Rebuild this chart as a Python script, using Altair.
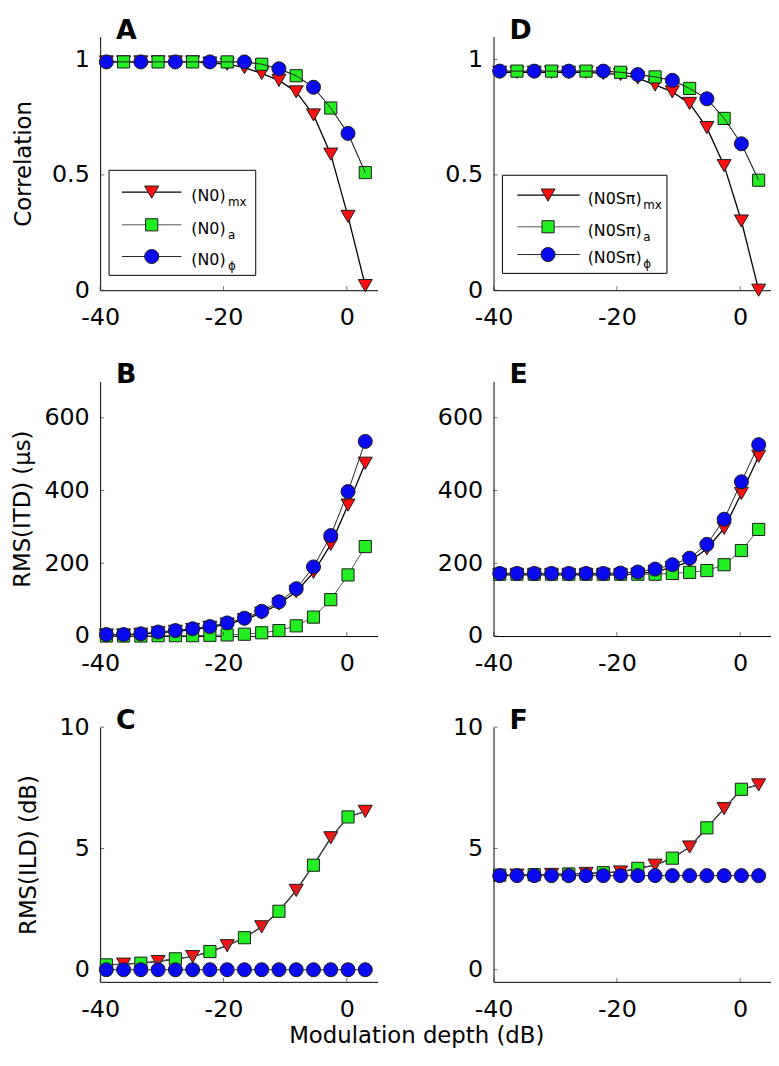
import altair as alt
import pandas as pd

# ---------------- data ----------------
X_DB = [-39.0, -36.2, -33.4, -30.6, -27.8, -25.0, -22.2, -19.4,
        -16.6, -13.8, -11.0, -8.2, -5.4, -2.6, 0.2, 3.0]

# A: N0, correlation
A_MX = [0.99, 0.99, 0.99, 0.99, 0.99, 0.99, 0.985, 0.98, 0.965, 0.94, 0.91, 0.86, 0.76, 0.59, 0.32, 0.02]
A_AM = [0.99, 0.99, 0.99, 0.99, 0.99, 0.99, 0.99, 0.99, 0.99, 0.98, 0.96, 0.93, 0.88, 0.79, 0.68, 0.51]
A_PH = [0.99, 0.99, 0.99, 0.99, 0.99, 0.99, 0.99, 0.99, 0.99, 0.98, 0.96, 0.93, 0.88, 0.79, 0.68, 0.51]
# B: N0, RMS(ITD)
B_MX = [3, 3, 5, 9, 13, 18, 24, 33, 45, 63, 88, 122, 175, 252, 360, 475]
B_AM = [0, 0, 0, 1, 1, 1, 2, 3, 5, 9, 15, 28, 52, 100, 168, 246]
B_PH = [4, 4, 6, 11, 15, 20, 26, 36, 49, 68, 94, 130, 190, 276, 397, 535]
# C: N0, RMS(ILD)
C_MX = [0.2, 0.23, 0.27, 0.34, 0.45, 0.54, 0.75, 0.99, 1.32, 1.77, 2.41, 3.27, 4.31, 5.44, 6.3, 6.53]
C_AM = [0.2, 0.23, 0.27, 0.34, 0.45, 0.54, 0.75, 0.99, 1.32, 1.77, 2.41, 3.27, 4.31, 5.44, 6.3, 6.53]
C_PH = [0.0, 0.0, 0.0, 0.0, 0.0, 0.0, 0.0, 0.0, 0.0, 0.0, 0.0, 0.0, 0.0, 0.0, 0.0, 0.0]
# D: N0Spi, correlation
D_MX = [0.945, 0.945, 0.945, 0.945, 0.945, 0.945, 0.94, 0.935, 0.92, 0.89, 0.86, 0.81, 0.705, 0.54, 0.30, 0.0]
D_AM = [0.95, 0.95, 0.95, 0.95, 0.95, 0.95, 0.95, 0.945, 0.935, 0.925, 0.91, 0.875, 0.83, 0.745, 0.635, 0.477]
D_PH = [0.95, 0.95, 0.95, 0.95, 0.95, 0.95, 0.95, 0.945, 0.935, 0.925, 0.91, 0.875, 0.83, 0.745, 0.635, 0.477]
# E: N0Spi, RMS(ITD)
E_MX = [168, 168, 168, 168, 168, 168, 168, 168, 170, 178, 188, 205, 240, 296, 392, 494]
E_AM = [170, 170, 170, 170, 170, 170, 170, 170, 170, 170, 172, 175, 180, 196, 235, 293]
E_PH = [172, 172, 172, 172, 172, 172, 172, 173, 176, 184, 196, 214, 252, 321, 424, 526]
# F: N0Spi, RMS(ILD)
F_MX = [3.9, 3.9, 3.92, 3.93, 3.95, 3.97, 4.0, 4.03, 4.18, 4.31, 4.6, 5.06, 5.85, 6.64, 7.44, 7.62]
F_AM = [3.9, 3.9, 3.92, 3.93, 3.95, 3.97, 4.0, 4.03, 4.18, 4.31, 4.6, 5.06, 5.85, 6.64, 7.44, 7.62]
F_PH = [3.88, 3.88, 3.88, 3.88, 3.88, 3.88, 3.88, 3.88, 3.88, 3.88, 3.88, 3.88, 3.88, 3.88, 3.88, 3.88]

X_TICKS = [-40, -20, 0]
CORR_TICKS = [0, 0.5, 1]
ITD_TICKS = [0, 200, 400, 600]
ILD_TICKS = [0, 5, 10]

SUBS = ["mx", "a", "\u03d5"]

# ---------------- styles ----------------
FONT = "DejaVu Sans"
W, H1, H2 = 280, 256, 257
STYLE = {
    "mx": dict(shape="triangle-down", fill="#ff1010", size=200, lc="#000000", lw=1.3),
    "am": dict(shape="square", fill="#22ee22", size=150, lc="#555555", lw=1.0),
    "ph": dict(shape="circle", fill="#0a0af0", size=200, lc="#222222", lw=1.0),
}
ORDER = ["mx", "am", "ph"]
XS = alt.Scale(domain=[-40, 5], nice=False, zero=False)
DUMMY = pd.DataFrame({"d": [0]})


def series_df(vals, which):
    rows = []
    for k, (x, v) in enumerate(zip(X_DB, vals)):
        if which == "all" or (which == "even" and k % 2 == 0) or (which == "odd" and k % 2 == 1):
            rows.append({"x": x, "y": v})
    return pd.DataFrame(rows)


def legend_layers(box, rows, lx, mx_, tx, sx, main):
    x0, x1, y0, y1 = box
    layers = [alt.Chart(DUMMY).mark_rect(fill="white", stroke="#000000", strokeWidth=1).encode(
        x=alt.value(x0), x2=alt.value(x1), y=alt.value(y0), y2=alt.value(y1))]
    for s, ry, sub in zip(ORDER, rows, SUBS):
        st = STYLE[s]
        layers.append(alt.Chart(DUMMY).mark_rule(color=st["lc"], strokeWidth=st["lw"]).encode(
            x=alt.value(lx[0]), x2=alt.value(lx[1]), y=alt.value(ry)))
        layers.append(alt.Chart(DUMMY).mark_point(shape=st["shape"], filled=True, fill=st["fill"],
                                                  stroke="#1a1a1a", strokeWidth=1, size=st["size"],
                                                  opacity=1).encode(
            x=alt.value(mx_), y=alt.value(ry)))
        layers.append(alt.Chart(DUMMY).mark_text(text=main, font=FONT, fontSize=16, align="left",
                                                 baseline="middle", color="black").encode(
            x=alt.value(tx), y=alt.value(ry + 4)))
        layers.append(alt.Chart(DUMMY).mark_text(text=sub, font=FONT, fontSize=12, align="left",
                                                 baseline="middle", color="black").encode(
            x=alt.value(sx), y=alt.value(ry + 10)))
    return layers


def panel(letter, vals, pattern, ydom, yticks, ytitle, ypad, h, legend=None, xtitle=None):
    ys = alt.Scale(domain=ydom, nice=False, zero=False)
    xaxis = alt.Axis(values=X_TICKS, labelExpr="'' + datum.value", title=xtitle,
                     titleX=319, titleY=61, titleBaseline="alphabetic", titleAlign="center")
    yaxis = alt.Axis(values=yticks, labelExpr="'' + datum.value", title=ytitle, titlePadding=ypad)
    ex = alt.X("x:Q", scale=XS, axis=xaxis)
    ey = alt.Y("y:Q", scale=ys, axis=yaxis)
    layers = []
    for s in ORDER:
        st = STYLE[s]
        dline = series_df(vals[s], "all")
        dpts = series_df(vals[s], pattern[s])
        layers.append(alt.Chart(dline).mark_line(color=st["lc"], strokeWidth=st["lw"]).encode(x=ex, y=ey))
        layers.append(alt.Chart(dpts).mark_point(shape=st["shape"], filled=True, fill=st["fill"],
                                                 stroke="#1a1a1a", strokeWidth=1, size=st["size"],
                                                 opacity=1).encode(x=ex, y=ey))
    # inward ticks
    layers.append(alt.Chart(pd.DataFrame({"y": yticks})).mark_tick(
        orient="horizontal", size=4, thickness=1, color="#333333").encode(y=ey, x=alt.value(2)))
    layers.append(alt.Chart(pd.DataFrame({"x": X_TICKS})).mark_tick(
        orient="vertical", size=4, thickness=1, color="#333333").encode(x=ex, y=alt.value(h - 2)))
    if legend is not None:
        layers += legend_layers(**legend)
    layers.append(alt.Chart(DUMMY).mark_text(text=letter, font=FONT, fontSize=27, fontWeight="bold",
                                             align="left", baseline="alphabetic", color="black").encode(
        x=alt.value(16), y=alt.value(2)))
    return alt.layer(*layers).properties(width=W, height=h)


PAT_CORR = {"mx": "all", "am": "odd", "ph": "even"}
PAT_ITD = {"mx": "all", "am": "all", "ph": "all"}
PAT_ILD = {"mx": "odd", "am": "even", "ph": "all"}

LEG_A = dict(box=(9, 157, 135, 241), rows=(157, 190, 222), lx=(22, 82), mx_=52, tx=92, sx=129, main="(N0)")
LEG_D = dict(box=(9, 175, 140, 239), rows=(160, 192, 220), lx=(24, 87), mx_=55, tx=95, sx=151,
             main="(N0S\u03c0)")

pA = panel("A", {"mx": A_MX, "am": A_AM, "ph": A_PH}, PAT_CORR, [0, 1.1], CORR_TICKS, "Correlation", 16, H1,
           legend=LEG_A)
pD = panel("D", {"mx": D_MX, "am": D_AM, "ph": D_PH}, PAT_CORR, [0, 1.1], CORR_TICKS, None, 16, H1,
           legend=LEG_D)
pB = panel("B", {"mx": B_MX, "am": B_AM, "ph": B_PH}, PAT_ITD, [0, 700], ITD_TICKS, "RMS(ITD) (\u03bcs)", 9, H2)
pE = panel("E", {"mx": E_MX, "am": E_AM, "ph": E_PH}, PAT_ITD, [0, 700], ITD_TICKS, None, 9, H2)
pC = panel("C", {"mx": C_MX, "am": C_AM, "ph": C_PH}, PAT_ILD, [-0.5, 10], ILD_TICKS, "RMS(ILD) (dB)", 19, H2,
           xtitle="Modulation depth (dB)")
pF = panel("F", {"mx": F_MX, "am": F_AM, "ph": F_PH}, PAT_ILD, [-0.5, 10], ILD_TICKS, None, 19, H2)

chart = alt.concat(pA, pD, pB, pE, pC, pF, columns=2, spacing={"row": 92, "column": 117},
                   bounds="flush").properties(
    padding={"left": 4, "top": 4, "right": 0, "bottom": 2}, background="white"
).configure_axis(
    labelFont=FONT, labelFontSize=24, labelColor="black", titleFont=FONT, titleFontSize=23,
    titleFontWeight="normal", titleColor="black", domainColor="black", domainWidth=1,
    ticks=False, tickSize=0, grid=False, labelFlush=False, labelOverlap=False
).configure_axisX(labelPadding=16).configure_axisY(labelPadding=11).configure_view(stroke=None)

chart.save("out.html", embed_options={"renderer": "svg", "actions": False})
